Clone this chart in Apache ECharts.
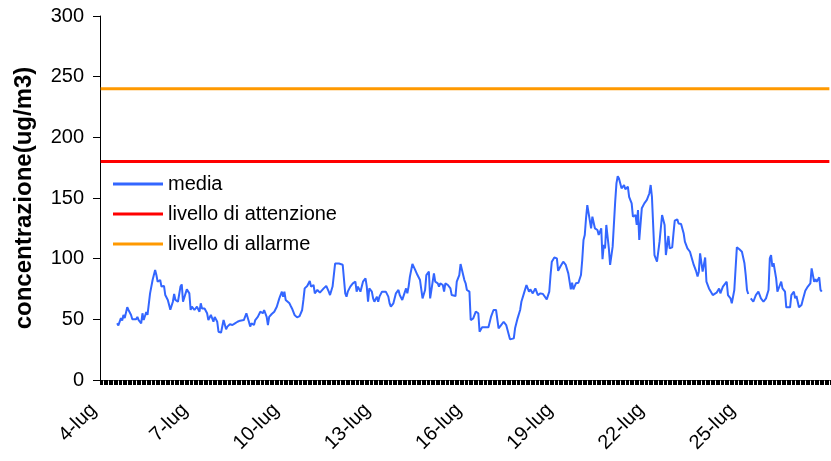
<!DOCTYPE html>
<html>
<head>
<meta charset="utf-8">
<script src="https://cdn.jsdelivr.net/npm/echarts@6/dist/echarts.min.js"></script>
<style>
  html, body { margin: 0; padding: 0; background: #fff; }
  #chart { width: 831px; height: 461px; }
</style>
</head>
<body>
<div id="chart"></div>
<script>
// ore dal 4-lug 00:00 (576 ore = 24 giorni)
const giorni = ['4-lug', '5-lug', '6-lug', '7-lug', '8-lug', '9-lug', '10-lug', '11-lug',
  '12-lug', '13-lug', '14-lug', '15-lug', '16-lug', '17-lug', '18-lug', '19-lug', '20-lug',
  '21-lug', '22-lug', '23-lug', '24-lug', '25-lug', '26-lug', '27-lug'];

const mediaOre = [13, 14, 16, 17, 18, 19, 21, 22, 24, 25, 28, 29, 30, 32, 33, 34, 36, 37, 39, 41,
  43, 44, 45, 47, 48, 50, 51, 53, 54, 55, 57, 58, 59, 61, 63, 64, 65, 66, 68, 69,
  70, 71, 72, 74, 76, 78, 79, 80, 82, 84, 85, 87, 89, 90, 92, 93, 95, 97, 99, 100,
  102, 104, 106, 108, 110, 113, 115, 116, 117, 118, 119, 121, 122, 124, 126, 128, 129, 131, 132, 133,
  135, 137, 139, 141, 143, 144, 145, 146, 149, 150, 151, 153, 155, 157, 159, 160, 161, 163, 165, 166,
  168, 169, 171, 173, 174, 176, 178, 180, 181, 183, 184, 185, 188, 191, 193, 194, 195, 197, 199, 201,
  202, 203, 205, 207, 209, 210, 211, 212, 214, 215, 216, 218, 219, 220, 222, 223, 225, 227, 228, 229,
  231, 233, 235, 236, 238, 239, 241, 242, 243, 244, 246, 248, 250, 252, 254, 256, 257, 259, 260, 262,
  263, 264, 266, 267, 268, 270, 271, 272, 274, 276, 277, 280, 281, 283, 284, 285, 287, 288, 289, 291,
  292, 294, 296, 298, 299, 301, 304, 306, 308, 310, 312, 314, 316, 318, 320, 321, 323, 326, 327, 329,
  331, 332, 334, 336, 338, 339, 341, 343, 345, 347, 349, 352, 354, 355, 356, 358, 360, 361, 363, 365,
  367, 369, 371, 372, 373, 375, 377, 379, 380, 381, 382, 383, 384, 385, 387, 388, 390, 392, 393, 395,
  396, 397, 398, 399, 401, 402, 404, 406, 407, 408, 409, 411, 413, 414, 416, 417, 419, 420, 422, 423,
  424, 425, 426, 427, 429, 431, 433, 434, 435, 437, 438, 439, 441, 443, 444, 445, 446, 448, 449, 451,
  452, 453, 455, 456, 458, 460, 461, 463, 465, 466, 468, 470, 471, 472, 473, 475, 476, 477, 478, 480,
  483, 486, 487, 488, 489, 491, 494, 495, 497, 498, 500, 502, 504, 506, 508, 509, 510, 511, 512, 513,
  515, 517, 518, 519, 521, 523, 525, 527, 528, 529, 530, 531, 533, 534, 536, 537, 538, 540, 541, 544,
  545, 547, 548, 549, 551, 553, 554, 556, 558, 560, 561, 563, 564, 565, 567, 568, 569];

const mediaValori = [46.7, 45, 51, 49, 53.6, 51, 60, 57.7, 53.6, 50, 50, 52, 49.4, 46.7, 55, 49.4, 56, 53.6, 71.4, 82.4,
  90.7, 86.5, 81, 82.4, 77, 77.5, 70, 66, 64.5, 58, 64.5, 70.9, 66, 64.5, 77, 78.8, 64.5, 66, 74.7, 75.5,
  71.4, 57.7, 60.4, 57.7, 60.4, 56.3, 63.2, 59, 59, 55, 49.4, 53.6, 48, 52, 48, 39.8, 39, 49.4, 41.8, 44,
  46, 45.3, 46.7, 48, 48.9, 49.4, 55, 53.6, 48, 44, 46.7, 45.3, 49.4, 52, 56.3, 55, 57.7, 52, 45.3, 52,
  54.4, 56.3, 60.4, 67.3, 72.8, 68.7, 72.8, 66, 63.2, 61, 59, 53.6, 51.6, 52.7, 57.7, 66, 75.5, 77.5, 81.6, 77,
  78.3, 71.4, 74.2, 72, 72.8, 75.5, 77.5, 72.8, 70, 77, 77.5, 96, 96, 95, 71.4, 68.7, 72.8, 77, 79.7, 81,
  72.8, 77, 72.8, 81, 83.8, 77, 64.5, 75.5, 72.8, 67.3, 64.5, 68.7, 64.5, 68.7, 72.8, 71.4, 72.8, 68.7, 63.2, 60.4,
  63.2, 71.4, 74.2, 70, 66, 67.3, 75.5, 71.4, 77, 85, 95.6, 91.2, 86.5, 82.4, 67.3, 74.2, 86.5, 89.3, 67.3, 81,
  87.9, 81, 79.7, 77, 79.7, 78.3, 72.8, 79.7, 78.3, 75.5, 70, 69.2, 81, 86.5, 95.6, 95.6, 82.4, 79.7, 74.2, 72.8,
  49.4, 50.8, 56.3, 55, 39.8, 43.4, 43.4, 43.4, 52, 57.7, 57.7, 42.6, 45.3, 48, 45.3, 44.5, 33.5, 34.3, 42.6, 50.8,
  57.7, 64.5, 71.4, 78.3, 72.8, 74.7, 71.4, 75.5, 70, 71.4, 70.9, 66.5, 72.8, 86.5, 97.5, 101, 100.2, 90, 94, 97.5,
  94.8, 87.9, 74.7, 80.2, 74.7, 79.7, 80.2, 86.5, 98.9, 115.4, 119.5, 133.3, 144.2, 145.6, 125, 134.6, 125, 123.6, 119.5, 125,
  99.5, 111.3, 108.5, 127.8, 108.5, 94.8, 109.9, 147, 162, 168, 166, 158, 160.7, 157.2, 159.3, 151, 145.6, 134.6, 136, 127.8,
  140, 115.4, 114, 141.5, 145.6, 148.4, 153.9, 160.7, 151, 103, 104.4, 97.5, 114, 136, 137.3, 127.8, 103, 118.7, 108.5, 109.3,
  120.9, 131.3, 132.4, 129, 128.6, 121, 114, 108.5, 105.7, 104.4, 94.8, 89.3, 85.2, 89.3, 104.4, 89.3, 87.9, 101, 81, 75.5,
  70, 72, 72.8, 75.5, 71.4, 77, 81, 70, 67.3, 63.2, 74.2, 109.3, 107.7, 105.7, 96.2, 86.5, 74.2, 70.9, null, 67.3,
  64.5, 70, 68.7, 72.8, 67.3, 64.5, 67.3, 74.2, 100.2, 103, 93.4, 96.2, 83.8, 72.8, 78.3, 81, 75.5, 72.8, 59.9, 59.9,
  70, 72.8, 67.3, 69.2, 59.9, 61.8, 66, 73.6, 77, 79.7, 92, 81, 83, 81, 84.6, 74.2, 72.8];

const livelloAttenzione = 180;
const livelloAllarme = 240;
const yTicks = [0, 50, 100, 150, 200, 250, 300];

const ore = [];
giorni.forEach(g => { for (let h = 0; h < 24; h++) ore.push(g + ' ' + String(h).padStart(2, '0') + ':00'); });
const last = ore.length - 1;

const chart = echarts.init(document.getElementById('chart'));
const font = 'Liberation Sans, Arial, sans-serif';

chart.setOption({
  animation: false,
  grid: { left: 100, right: 1, top: 16, bottom: 81, containLabel: false },
  legend: {
    orient: 'vertical',
    left: 113,
    top: 174,
    padding: 0,
    icon: 'rect',
    itemWidth: 50,
    itemHeight: 3,
    itemGap: 10,
    textStyle: { fontFamily: font, fontSize: 20, color: '#000' },
    data: ['media', 'livello di attenzione', 'livello di allarme']
  },
  xAxis: {
    type: 'category',
    data: ore,
    axisLine: { lineStyle: { color: '#555', width: 1 } },
    axisTick: { show: true, interval: 0, length: 5, lineStyle: { color: '#000', width: 1 } },
    axisLabel: {
      interval: 71,
      rotate: 45,
      margin: 34,
      verticalAlign: 'bottom',
      fontFamily: font,
      fontSize: 20,
      color: '#000',
      formatter: v => v.split(' ')[0]
    },
    splitLine: { show: false }
  },
  yAxis: {
    type: 'value',
    min: yTicks[0],
    max: yTicks[yTicks.length - 1],
    interval: 50,
    name: 'concentrazione(ug/m3)',
    nameLocation: 'middle',
    nameGap: 64,
    nameTextStyle: { fontFamily: font, fontSize: 24, fontWeight: 'bold', color: '#000' },
    axisLine: { show: true, lineStyle: { color: '#000', width: 1 } },
    axisTick: { show: true, length: 7, lineStyle: { color: '#000' } },
    axisLabel: { margin: 16, fontFamily: font, fontSize: 20, color: '#000' },
    splitLine: { show: false }
  },
  series: [
    {
      name: 'media',
      type: 'line',
      data: mediaOre.map((h, i) => [h, mediaValori[i]]),
      symbol: 'none',
      connectNulls: false,
      lineStyle: { color: '#3366ff', width: 2 },
      itemStyle: { color: '#3366ff' },
      z: 3
    },
    {
      name: 'livello di attenzione',
      type: 'line',
      data: [[0, livelloAttenzione], [last, livelloAttenzione]],
      symbol: 'none',
      lineStyle: { color: '#ff0000', width: 3 },
      itemStyle: { color: '#ff0000' }
    },
    {
      name: 'livello di allarme',
      type: 'line',
      data: [[0, livelloAllarme], [last, livelloAllarme]],
      symbol: 'none',
      lineStyle: { color: '#ff9900', width: 3 },
      itemStyle: { color: '#ff9900' }
    }
  ]
});
</script>
</body>
</html>
